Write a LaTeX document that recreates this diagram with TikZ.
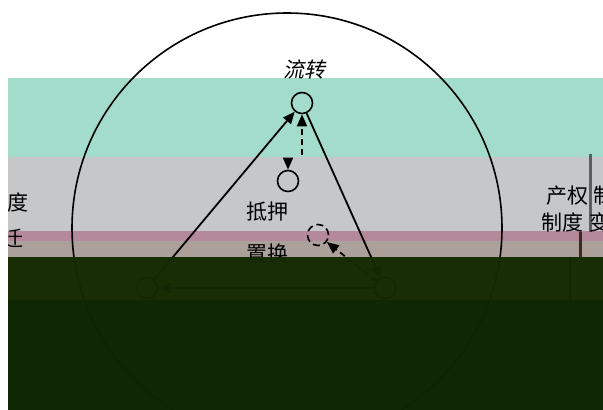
\documentclass[tikz,border=0pt]{standalone}
\usepackage{fontspec}
\setmainfont{Noto Sans CJK SC}
\newfontfamily\slantcjk[FakeSlant=0.2]{Noto Sans CJK SC}
\usepackage{xcolor}
\usetikzlibrary{arrows.meta}

\definecolor{bandteal}{HTML}{A3DCCB}
\definecolor{bandgray}{HTML}{C5C7C9}
\definecolor{bandpink}{HTML}{B48A9A}
\definecolor{bandtaupe}{HTML}{ABA09A}
\definecolor{darktop}{HTML}{182D03}
\definecolor{darkbot}{HTML}{0F2803}
\definecolor{bargray}{HTML}{5A5E60}
\definecolor{barbrown}{HTML}{3A2A22}

\begin{document}
\begin{tikzpicture}[
    x=1pt, y=-1pt,
    spot/.style={draw, circle, minimum size=21pt, inner sep=0pt, line width=1.6pt},
    cjktext/.style={font=\fontsize{21}{24}\selectfont, inner sep=0pt},
    link/.style={line width=1.8pt, -{Triangle[length=12pt,width=10pt]}},
    dashlink/.style={link, dash pattern=on 6pt off 4pt},
]
\clip (0,0) rectangle (603,410);
\fill[white] (0,0) rectangle (603,410);

% colour bands
\fill[bandteal]  (8,78)  rectangle (603,157);
\fill[bandgray]  (8,157) rectangle (603,231);
\fill[bandpink]  (8,231) rectangle (603,241);
\fill[bandtaupe] (8,241) rectangle (603,257);
\fill[darktop]   (8,257) rectangle (603,300);
\fill[darkbot]   (8,300) rectangle (603,410);
\fill[bargray]   (589,154) rectangle (592,232);
\fill[barbrown]  (579,232) rectangle (582,257);

\draw[line width=1.6pt] (287,228) circle[radius=215];

\node[cjktext, font=\slantcjk\fontsize{21}{24}\selectfont] (flowtxt) at (304,70) {流转};
\node[spot] (top)  at (302,103) {};
\node[spot] (mid)  at (288,181) {};
\node[cjktext] (pledgetxt) at (267,212) {抵押};
\node[spot, dash pattern=on 7pt off 4pt] (swap) at (318,235) {};
\node[cjktext] (swaptxt) at (267,254) {置换};
\node[spot] (bl) at (147,288) {};
\node[spot] (br) at (385,288) {};

\node[cjktext] (leftA)  at (18,202) {度};
\node[cjktext] (leftB)  at (13,238) {迁};
\node[cjktext] (rightA) at (567,196) {产权};
\node[cjktext, anchor=west] (rightB) at (593,196) {制};
\node[cjktext] (rightC) at (562,222) {制度};
\node[cjktext, anchor=west] (rightD) at (589,222) {变};

\coordinate (seamL) at (288,158);
\coordinate (seamR) at (302,155);

\draw[link] (bl) -- (top);
\draw[link] (top) -- (br);
\draw[link] (br) -- (bl);
\draw[dashlink] (seamL) -- (mid);
\draw[dashlink] (seamR) -- (top);
\draw[dashlink] (br) -- (swap);

% dark lower part, laid over the drawing
\fill[black] (569,257) rectangle (571,300);
\fill[darktop, opacity=0.85] (8,257) rectangle (603,300);
\fill[darkbot, opacity=0.9]  (8,300) rectangle (603,410);
\fill[white] (0,78) rectangle (8,410);
\end{tikzpicture}
\end{document}
